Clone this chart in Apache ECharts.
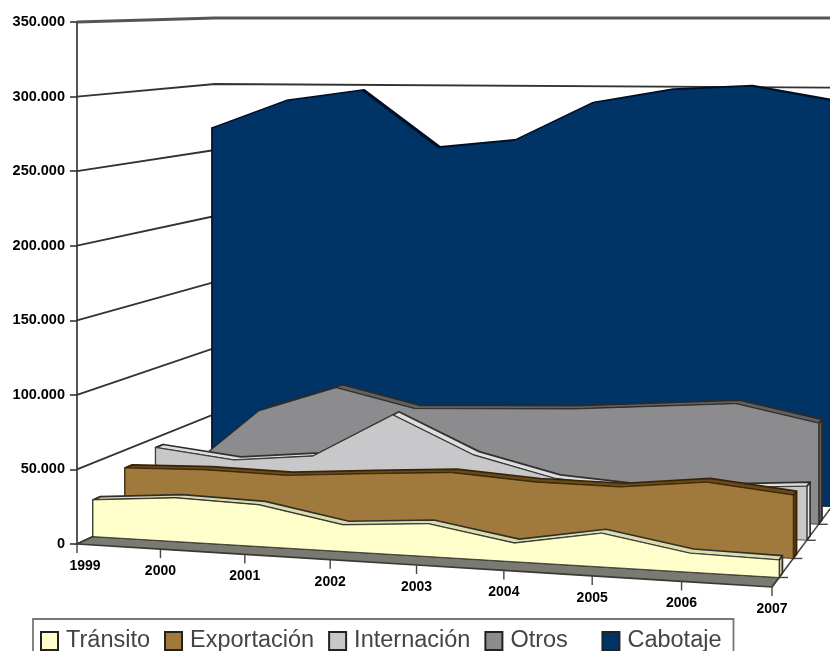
<!DOCTYPE html>
<html><head><meta charset="utf-8">
<style>html,body{margin:0;padding:0;background:#fff;overflow:hidden}
#c{width:830px;height:651px;filter:blur(0.7px)}</style>
<script src="https://cdn.jsdelivr.net/npm/echarts@6/dist/echarts.min.js"></script>
</head><body><div id="c"></div>
<script>
const years = ['1999','2000','2001','2002','2003','2004','2005','2006','2007'];
const yTicks = [0,50000,100000,150000,200000,250000,300000,350000];
const transito    = [24900,29400,27900,17700,21700,12200,22000,12300,11300];
const exportacion = [37500,39000,38000,42000,45600,42000,41600,47700,42000];
const internacion = [43000,36600,42000,73500,47800,34000,30000,33000,36800];
const otros       = [16000,64000,83000,70000,72000,74000,78000,82000,70500];
const cabotaje    = [266800,288000,296000,254000,260000,288000,298000,301000,291000];

// layers listed back to front; depth in the 3D box, colours of the faces
const layers = [
  {name:'Cabotaje',   vals:cabotaje,    d:0.98,  t:0.02, front:'#003366', top:'#00224a', side:'#002a55', edge:'#000f26', lw:2.2},
  {name:'Otros',      vals:otros,       d:0.765, t:0.055,front:'#8c8c8e', top:'#606060', side:'#5c5c5c', edge:'#2a2a2a', lw:1.7},
  {name:'Internación',vals:internacion, d:0.57,  t:0.055,front:'#c8c8ca', top:'#dedede', side:'#e8e8e8', edge:'#303030', lw:1.7},
  {name:'Exportación',vals:exportacion, d:0.348, t:0.055,front:'#a07a3c', top:'#6a4a18', side:'#553a10', edge:'#362408', lw:1.7},
  {name:'Tránsito',   vals:transito,    d:0.116, t:0.055,front:'#ffffcc', top:'#dcdcb0', side:'#c8c8a0', edge:'#30302a', lw:1.7}
];
const legendOrder = ['Tránsito','Exportación','Internación','Otros','Cabotaje'];

// box corners of the perspective view, in screen pixels
const FL=[77,544], BL=[215,480], FR=[772,587], BR=[833,505];
const cFL=22, cBL=18, cFR=38, cBR=18;
const lerp=(a,b,t)=>a+(b-a)*t;
function project(cs, pt, d){
  let u=(pt[0]-cs.x)/cs.width;
  const w=(cs.y+cs.height-pt[1])/cs.height;
  u=u/(u+(1-u)*1.047);
  const x=lerp(lerp(FL[0],FR[0],u),lerp(BL[0],BR[0],u),d);
  const fy=lerp(lerp(FL[1],FR[1],u),lerp(BL[1],BR[1],u),d);
  const cy=lerp(lerp(cFL,cFR,u),lerp(cBL,cBR,u),d);
  return [x,lerp(fy,cy,w)];
}

const wallSeries={
  type:'custom', name:'walls', silent:true, clip:false, z:1,
  data:yTicks.map(v=>[0,v]),
  encode:{x:0,y:1},
  renderItem(p,api){
    const v=api.value(1), cs=p.coordSys;
    const a=project(cs,api.coord([0,v]),0), b=project(cs,api.coord([0,v]),1), c=project(cs,api.coord([8,v]),1);
    const top=v===350000;
    return {type:'polyline',shape:{points:[a,b,c]},
      style:{fill:null,stroke:top?'#555555':'#333333',lineWidth:top?3:1.8}};
  }
};

const floorSeries={
  type:'custom', name:'floor', silent:true, clip:false, z:2,
  data:[[0,0]], encode:{x:0,y:1},
  renderItem(p,api){
    const cs=p.coordSys, n=years.length-1;
    const pts=[];
    for(let i=0;i<=n;i++) pts.push(project(cs,api.coord([i,0]),0));
    for(let i=n;i>=0;i--) pts.push(project(cs,api.coord([i,0]),0.116));
    const e0=project(cs,api.coord([n,0]),0), e1=project(cs,api.coord([n,0]),1);
    const kids=[
      {type:'polygon',shape:{points:pts},style:{fill:'#7a7a72',stroke:'#3a3a34',lineWidth:1.6}},
      {type:'line',shape:{x1:e0[0],y1:e0[1],x2:e1[0],y2:e1[1]},style:{stroke:'#444',lineWidth:1.6}}
    ];
    [0.116,0.348,0.57,0.765].forEach(d=>{
      const q=project(cs,api.coord([n,0]),d);
      kids.push({type:'line',shape:{x1:q[0],y1:q[1],x2:q[0]+9,y2:q[1]},style:{stroke:'#444',lineWidth:1.4}});
    });
    return {type:'group',children:kids};
  }
};

const layerSeries=layers.map((L,idx)=>({
  type:'custom', name:L.name, clip:false, z:3+idx,
  itemStyle:{color:L.front},
  data:L.vals.map((v,i)=>[i,v]),
  encode:{x:0,y:1},
  renderItem(p,api){
    if(p.dataIndex!==0) return null;
    const cs=p.coordSys, n=L.vals.length-1, dB=L.d+L.t;
    const at=(i,v,d)=>project(cs,api.coord([i,v]),d);
    const topF=[],topB=[],base=[];
    for(let i=0;i<=n;i++){
      topF.push(at(i,L.vals[i],L.d));
      topB.push(at(i,L.vals[i],dB));
      base.push(at(i,0,L.d));
    }
    const st=(fill)=>({fill,stroke:L.edge,lineWidth:L.lw,lineJoin:'round'});
    return {type:'group',children:[
      {type:'polygon',shape:{points:[at(n,0,L.d),at(n,0,dB),at(n,L.vals[n],dB),at(n,L.vals[n],L.d)]},style:st(L.side)},
      {type:'polygon',shape:{points:[at(0,0,L.d),at(0,0,dB),at(0,L.vals[0],dB),at(0,L.vals[0],L.d)]},style:st(L.side)},
      {type:'polygon',shape:{points:topF.concat(topB.slice().reverse())},style:st(L.top)},
      {type:'polygon',shape:{points:topF.concat(base.slice().reverse())},
        style:{fill:L.front,stroke:L.edge,lineWidth:0.8}}
    ]};
  }
}));

const yearSeries={
  type:'custom', name:'years', silent:true, clip:false, z:20,
  data:years.map((y,i)=>[i,0]), encode:{x:0,y:1},
  renderItem(p,api){
    const i=api.value(0), q=project(p.coordSys,api.coord([i,0]),0);
    return {type:'group',children:[
      {type:'line',shape:{x1:q[0],y1:q[1],x2:q[0],y2:q[1]+9},style:{stroke:'#444',lineWidth:1.4}},
      {type:'text',style:{x:q[0]+(i===0?8:0),y:q[1]+22,text:years[i],align:'center',verticalAlign:'middle',
        fill:'#000',font:'bold 14px "Liberation Sans"'}}
    ]};
  }
};

const chart=echarts.init(document.getElementById('c'),null,{renderer:'canvas'});
chart.setOption({
  animation:false,
  backgroundColor:'#fff',
  grid:{left:77,top:22,width:696,height:522,containLabel:false},
  xAxis:{type:'category',data:years,boundaryGap:false,show:false},
  yAxis:{type:'value',min:0,max:350000,interval:50000,
    axisLine:{show:true,lineStyle:{color:'#555',width:2}},
    axisTick:{show:true,length:7,lineStyle:{color:'#333',width:1.6}},
    splitLine:{show:false},
    axisLabel:{margin:12,color:'#000',fontFamily:'Liberation Sans',fontWeight:'bold',fontSize:14.5,
      formatter:v=>String(v).replace(/\B(?=(\d{3})+$)/g,'.')}
  },
  legend:{
    left:33,top:619,orient:'horizontal',padding:[10,12,10,7],
    backgroundColor:'#fff',borderColor:'#777',borderWidth:1.8,
    itemWidth:17,itemHeight:18,itemGap:14,selectedMode:false,icon:'rect',
    itemStyle:{borderColor:'#222',borderWidth:2},
    textStyle:{color:'#444',fontFamily:'Liberation Sans',fontSize:23.5,padding:[0,0,0,3]},
    formatter:n=>n==='Otros'?n+'   ':n,
    data:legendOrder
  },
  series:[wallSeries,floorSeries].concat(layerSeries,[yearSeries])
});
</script></body></html>
